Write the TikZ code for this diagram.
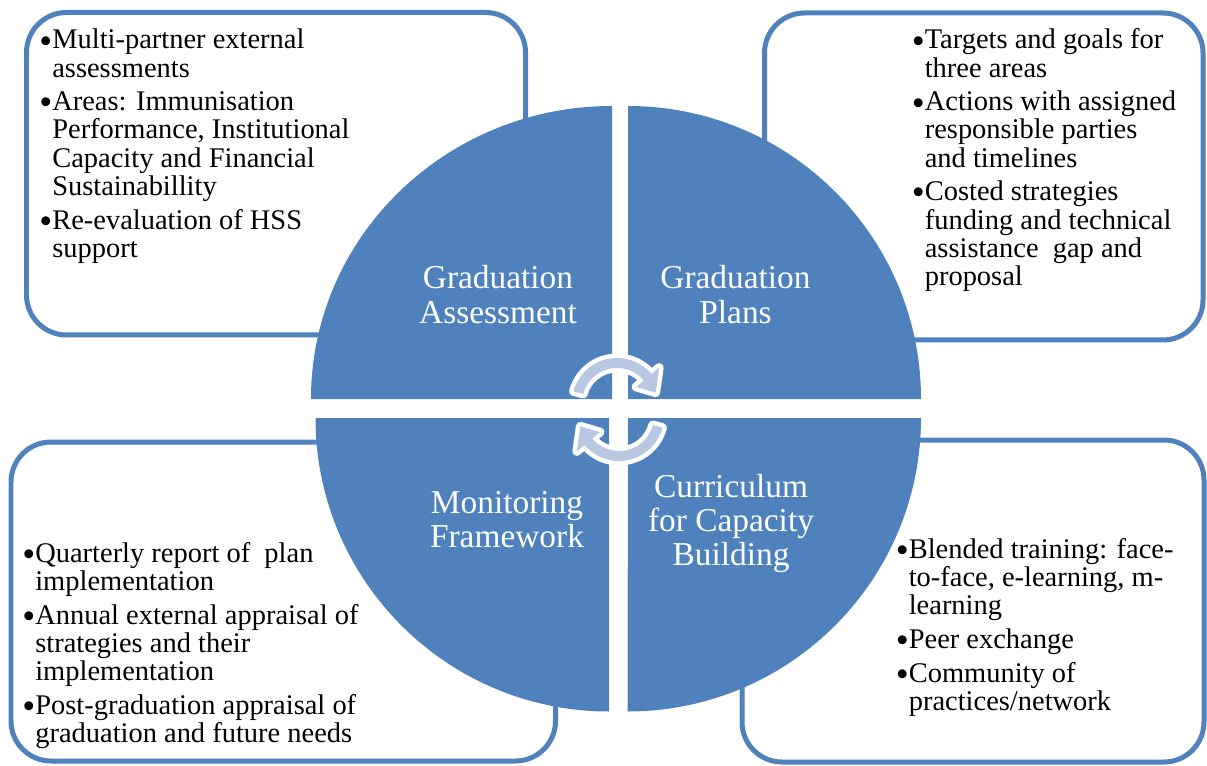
\documentclass[tikz,border=0pt]{standalone}
\usepackage{fontspec}
\setmainfont{Liberation Serif}
\definecolor{quadblue}{HTML}{4F81BD}
\definecolor{arrowtint}{HTML}{B9C8E2}
\tikzset{
  infobox/.style = {draw=quadblue, fill=white, line width=0.1cm, rounded corners=0.8cm},
  quadrant/.style = {fill=quadblue},
  quadlabel/.style = {text=white, inner sep=0pt, anchor=base, font=\fontsize{19}{19.4}\selectfont},
  bulletlist/.style = {inner sep=0pt, anchor=base west, font=\fontsize{16.2}{15.94}\selectfont},
  cyclearrow/.style = {fill=arrowtint, line join=round, preaction={draw=white, line width=0.18cm, line join=round}}
}
\newcommand{\labellines}[1]{\begin{tabular}[t]{@{}c@{}}#1\end{tabular}}
\newcommand{\bulletrows}[1]{\begin{tabular}[t]{@{}l@{}l@{}}#1\end{tabular}}
\newcommand{\itemgap}{\\[3.1pt]}
\newcommand{\bul}{\raisebox{-0.15em}{\scalebox{1.3}{\textbullet}}\hspace{0.05em}}

\begin{document}
\begin{tikzpicture}[x=0.02cm, y=0.02cm]
\useasboundingbox (0,0) rectangle (1207,765);
% text boxes behind the circle
\draw[infobox] (26.5,430) rectangle (525.5,752.5);
\draw[infobox] (764.5,425) rectangle (1203,752);
\draw[infobox] (11,4) rectangle (555.5,323);
\draw[infobox] (742,3) rectangle (1204,325);
% four quarters
\fill[quadrant] (612,366) -- (311,366) arc[start angle=180, end angle=90, x radius=301, y radius=293] -- cycle;
\fill[quadrant] (628,366) -- (628,659) arc[start angle=90, end angle=0, radius=293] -- cycle;
\fill[quadrant] (628,347) -- (921,347) arc[start angle=0, end angle=-90, radius=293.5] -- cycle;
\fill[quadrant] (609,347) -- (609,53.5) arc[start angle=270, end angle=180, radius=293.5] -- cycle;
% circular arrows in the middle
\begin{scope}[shift={(617,362)}]
\fill[cyclearrow] (165:45) arc[start angle=165, end angle=40, radius=45] -- (40:55) -- (15:40) -- (40:25) -- (40:35) arc[start angle=40, end angle=165, radius=35] -- cycle;
\end{scope}
\begin{scope}[shift={(619,349)}]
\fill[cyclearrow] (-15:45) arc[start angle=-15, end angle=-140, radius=45] -- (-140:55) -- (-165:40) -- (-140:25) -- (-140:35) arc[start angle=-140, end angle=-15, radius=35] -- cycle;
\end{scope}
% quarter labels
\node[quadlabel] (assess) at (498,476) {\labellines{Graduation\\Assessment}};
\node[quadlabel] (plans) at (735.5,476) {\labellines{Graduation\\Plans}};
\node[quadlabel] (monitor) at (507,252) {\labellines{Monitoring\\Framework}};
\node[quadlabel] (curric) at (731,268) {\labellines{Curriculum\\for Capacity\\Building}};
% bullet lists
\node[bulletlist] (assesslist) at (39,716) {\bulletrows{%
  \bul & Multi-partner external\\ & assessments\itemgap
  \bul & Areas: Immunisation\\ & Performance, Institutional\\ & Capacity and Financial\\ & Sustainabillity\itemgap
  \bul & Re-evaluation of HSS\\ & support}};
\node[bulletlist] (planslist) at (911.5,716) {\bulletrows{%
  \bul & Targets and goals for\\ & three areas\itemgap
  \bul & Actions with assigned\\ & responsible parties\\ & and timelines\itemgap
  \bul & Costed strategies\\ & funding and technical\\ & assistance~ gap and\\ & proposal}};
\node[bulletlist] (monitorlist) at (22,203) {\bulletrows{%
  \bul & Quarterly report of~ plan\\ & implementation\itemgap
  \bul & Annual external appraisal of\\ & strategies and their\\ & implementation\itemgap
  \bul & Post-graduation appraisal of\\ & graduation and future needs}};
\node[bulletlist] (curriclist) at (895.5,207) {\bulletrows{%
  \bul & Blended training: face-\\ & to-face, e-learning, m-\\ & learning\itemgap
  \bul & Peer exchange\itemgap
  \bul & Community of\\ & practices/network}};
\end{tikzpicture}
\end{document}
